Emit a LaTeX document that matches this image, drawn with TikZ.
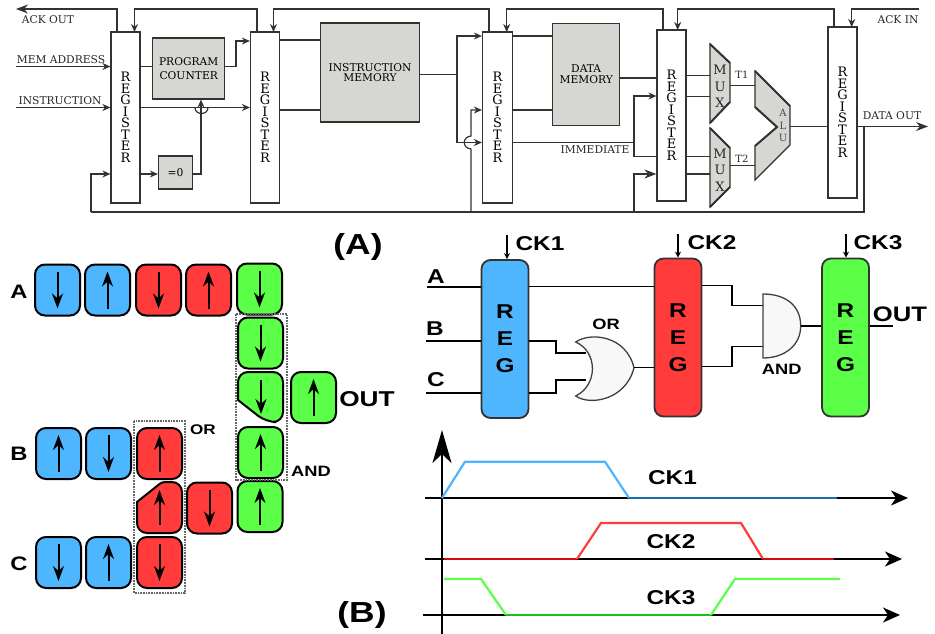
\documentclass[tikz,border=0pt]{standalone}
\usepackage{xcolor}
\usepackage{fontspec}
\setmainfont{DejaVu Serif}
\newfontfamily\boldlabel[FakeStretch=1.22]{Liberation Sans Bold}
\definecolor{wiregray}{RGB}{50, 50, 50}
\definecolor{boxgray}{RGB}{214, 214, 211}
\definecolor{regblue}{RGB}{77, 182, 255}
\definecolor{regred}{RGB}{255, 59, 59}
\definecolor{reggreen}{RGB}{92, 255, 71}
\definecolor{gatewhite}{RGB}{248, 248, 248}
\definecolor{deepblue}{RGB}{28, 110, 168}
\definecolor{deepred}{RGB}{210, 10, 10}
\definecolor{deepgreen}{RGB}{16, 196, 16}
\usepackage{tikz}
\usetikzlibrary{arrows.meta, positioning, calc}
\tikzstyle{wire} = [draw=wiregray, line width=1.2pt]
\tikzstyle{sig} = [wire, -{Stealth[length=8pt,width=7pt]}]
\tikzstyle{bigsig} = [wire, -{Stealth[length=12pt,width=9pt]}]
\tikzstyle{register} = [rectangle, draw=wiregray, line width=1.2pt, fill=white, minimum width=29pt, inner sep=0pt, align=center, font=\fontsize{13}{11.5}\selectfont]
\tikzstyle{graybox} = [rectangle, draw=wiregray, line width=1.2pt, fill=boxgray, inner sep=0pt, align=center, font=\fontsize{10.7}{14}\selectfont]
\tikzstyle{graygate} = [draw=wiregray, line width=1.2pt, fill=boxgray]
\tikzstyle{thickedge} = [draw=wiregray, line width=2pt]
\tikzstyle{small} = [inner sep=0pt, font=\fontsize{10.7}{12}\selectfont, text=black!85]
\tikzstyle{tile} = [rectangle, draw=black, line width=2pt, rounded corners=10pt, minimum width=45pt, minimum height=51pt, inner sep=0pt]
\tikzstyle{tilearrow} = [line width=2pt, -{Stealth[length=15pt,width=11pt]}, shorten >=8pt, shorten <=8pt]
\tikzstyle{dotbox} = [draw=black!60, line width=1.7pt, dash pattern=on 1.7pt off 1pt]
\tikzstyle{bold} = [inner sep=0pt, font=\boldlabel\fontsize{15}{16}\selectfont]
\tikzstyle{bigreg} = [rectangle, draw=black!80, line width=1.8pt, rounded corners=9pt, minimum width=47pt, minimum height=158pt, inner sep=0pt, align=center, font=\boldlabel\fontsize{20}{27}\selectfont]
\tikzstyle{blackwire} = [draw=black, line width=1.5pt]
\tikzstyle{clock} = [blackwire, -{Stealth[length=6pt,width=6pt]}]
\tikzstyle{logicgate} = [draw=black!75, line width=1.3pt, fill=gatewhite]
\tikzstyle{axis} = [draw=black, line width=2.1pt, -{Stealth[length=17pt,width=15pt,inset=5pt]}]
\tikzstyle{wave} = [line width=2.2pt]
\begin{document}
\begin{tikzpicture}[x=1pt, y=-1pt]
    \useasboundingbox (0,0) rectangle (935,634);

    \node[register, minimum height=171pt] (regI) at (125.5,117.5) {R\\E\\G\\I\\S\\T\\E\\R};
    \node[register, minimum height=171pt] (regII) at (265,117.5) {R\\E\\G\\I\\S\\T\\E\\R};
    \node[register, minimum height=171pt, minimum width=30pt] (regIII) at (497.5,117.5) {R\\E\\G\\I\\S\\T\\E\\R};
    \node[register, minimum height=171pt] (regIV) at (671.5,115.5) {R\\E\\G\\I\\S\\T\\E\\R};
    \node[register, minimum height=171pt] (regV) at (842.5,112.5) {R\\E\\G\\I\\S\\T\\E\\R};
    \node[graybox, minimum width=72pt, minimum height=61pt] (counter) at (188.7,68.5) {PROGRAM\\COUNTER};
    \node[graybox, minimum width=34pt, minimum height=33pt] (iszero) at (175.5,172.5) {=0};
    \node[graybox, minimum width=99pt, minimum height=99pt] (imem) at (370,72.5) {INSTRUCTION\\[-3.5pt]MEMORY};
    \node[graybox, minimum width=67pt, minimum height=102pt] (dmem) at (586.2,74.3) {DATA\\[-3.5pt]MEMORY};

    \foreach \name/\x/\y in {rail/0/9, back/0/212, rowmem/0/66.5, rowins/0/107.5, rowzero/0/174, rowdone/0/41,
        rowtop/0/36, rowmid/0/110, rowimm/0/142.5, rowdm/0/78, rowim/0/74.5, rowhigh/0/40,
        muxa/0/75.5, muxb/0/96.5, muxc/0/156.5, muxd/0/174, rowout/0/126.5,
        ackI/117/32, reqI/134.5/32, ackII/257/32, reqII/273.5/32, ackIII/489/32, reqIII/506.7/32,
        ackIV/663/30, reqIV/677.7/30, ackV/834/27, reqV/851.7/27,
        ackoutend/16/9, ackinend/919/9, memstart/16/66.5, insstart/16/107.5, pcjog/236/66.5,
        zerojog/201/174, hopl/195/107.5, hopr/208/107.5, feedstart/91/174, feedend/864/126.5,
        dataend/928/126.5, splitx/457/36, crossx/471/110, hopt/471/136, hopb/471/149, immx/634/96,
        mout/730/85.5, tout/730/165.5, muxoutend/755/85.5, tinend/755/165.5, aluout/790/126.5} {
        \coordinate (\name) at (\x,\y);
    }

    \draw[graygate] (710,44) -- (730,63) -- (730,102) -- (710,123) -- cycle;
    \draw[graygate] (710,128) -- (730,148) -- (730,187) -- (710,207) -- cycle;
    \draw[graygate] (755,71) -- (790,106) -- (790,145) -- (755,180) -- (755,146) -- (777,127) -- (755,107) -- cycle;
    \draw[thickedge] (710,44) -- (730,63) (730,102) -- (710,123) (710,128) -- (730,148) (730,187) -- (710,207);
    \draw[thickedge] (755,71) -- (790,106) (755,146) -- (777,127) -- (755,107);
    \node[small, font=\fontsize{13}{16.7}\selectfont, align=center] (muxI) at (720,86.5) {M\\U\\X};
    \node[small, font=\fontsize{13}{16.7}\selectfont, align=center] (muxII) at (720,170) {M\\U\\X};
    \node[small, font=\fontsize{10}{12.5}\selectfont, align=center, text=black!70] (alu) at (783,125.5) {A\\L\\U};

    \draw[bigsig] (ackI) -- (ackI |- rail) -- (ackoutend);
    \draw[sig] (ackII) -- (ackII |- rail) -- (reqI |- rail) -- (reqI);
    \draw[sig] (ackIII) -- (ackIII |- rail) -- (reqII |- rail) -- (reqII);
    \draw[sig] (ackIV) -- (ackIV |- rail) -- (reqIII |- rail) -- (reqIII);
    \draw[sig] (ackV) -- (ackV |- rail) -- (reqIV |- rail) -- (reqIV);
    \draw[sig] (ackinend) -- (reqV |- rail) -- (reqV);

    \draw[sig] (memstart) -- (memstart -| regI.west);
    \draw[sig] (insstart) -- (insstart -| regI.west);
    \draw[wire] (regI.east |- rowmem) -- (counter.west |- rowmem);
    \draw[sig] (counter.east |- pcjog) -- (pcjog) -- (pcjog |- rowdone) -- (regII.west |- rowdone);
    \draw[sig] (regI.east |- rowins) -- (regII.west |- rowins);
    \draw[wire] (hopl) .. controls +(0,8) and +(0,8) .. (hopr);
    \draw[sig] (regI.east |- rowzero) -- (iszero.west |- rowzero);
    \draw[sig] (iszero.east |- rowzero) -- (zerojog) -- (zerojog |- counter.south);
    \draw[sig] (feedstart |- back) -- (feedstart) -- (feedstart -| regI.west);
    \draw[wire] (feedstart |- back) -- (feedend |- back) -- (feedend);

    \draw[wire] (regII.east |- rowhigh) -- (imem.west |- rowhigh);
    \draw[wire] (regII.east |- rowmid) -- (imem.west |- rowmid);
    \draw[wire] (imem.east |- rowim) -- (splitx |- rowim);
    \draw[sig] (splitx |- rowimm) -- (splitx) -- (regIII.west |- splitx);
    \draw[sig] (crossx |- back) -- (hopb) .. controls (462,148) and (462,137) .. (hopt) -- (crossx) -- (regIII.west |- crossx);
    \draw[sig] (splitx |- rowimm) -- (regIII.west |- rowimm);

    \draw[wire] (regIII.east |- rowtop) -- (dmem.west |- rowtop);
    \draw[wire] (regIII.east |- rowmid) -- (dmem.west |- rowmid);
    \draw[wire] (dmem.east |- rowdm) -- (regIV.west |- rowdm);
    \draw[wire] (regIII.east |- rowimm) -- (immx |- rowimm);
    \draw[sig] (immx |- muxc) -- (immx) -- (regIV.west |- immx);
    \draw[wire] (immx |- muxc) -- (regIV.west |- muxc);
    \draw[bigsig] (immx |- back) -- (immx |- muxd) -- (regIV.west |- muxd);

    \draw[wire] (regIV.east |- muxa) -- (710,75.5);
    \draw[wire] (regIV.east |- muxb) -- (710,96.5);
    \draw[wire] (regIV.east |- muxc) -- (710,156.5);
    \draw[wire] (regIV.east |- muxd) -- (710,174);
    \draw[wire] (mout) -- (muxoutend);
    \draw[wire] (tout) -- (tinend);
    \draw[wire] (aluout) -- (regV.west |- aluout);
    \draw[bigsig] (regV.east |- rowout) -- (dataend);

    \node[small] (ackoutl) at (48,20) {ACK OUT};
    \node[small] (ackinl) at (898,20) {ACK IN};
    \node[small] (meml) at (61,60) {MEM ADDRESS};
    \node[small] (insl) at (60,101) {INSTRUCTION};
    \node[small] (imml) at (595,150) {IMMEDIATE};
    \node[small] (dataoutl) at (892,115.5) {DATA OUT};
    \node[small, font=\fontsize{10}{10}\selectfont] (tI) at (742,75) {T1};
    \node[small, font=\fontsize{10}{10}\selectfont] (tII) at (742,159) {T2};

    \foreach \name/\x/\y/\col/\from/\to in {
        ai/57.5/290/regblue/north/south, aii/107.5/290/regblue/south/north,
        aiii/158.5/290/regred/north/south, aiv/208.5/290/regred/south/north,
        av/259.5/289/reggreen/north/south,
        gi/260.5/343/reggreen/north/south, giii/260.5/452.5/reggreen/south/north,
        giv/260/506.5/reggreen/south/north, outt/313.5/397.5/reggreen/south/north,
        bi/58.5/453.5/regblue/south/north, bii/108.5/453.5/regblue/north/south,
        biii/159.5/453.5/regred/south/north, midii/209.5/508/regred/north/south,
        ci/58.5/562.5/regblue/north/south, cii/108.5/562.5/regblue/south/north,
        ciii/159.5/562.5/regred/north/south} {
        \node[tile, fill=\col] (\name) at (\x,\y) {};
        \draw[tilearrow] (\name.\from) -- (\name.\to);
    }

    \coordinate (cutgt) at (261,372);
    \coordinate (cutgb) at (261,422);
    \coordinate (cutrt) at (159.5,482);
    \coordinate (cutrb) at (159.5,533);
    \draw[draw=black, line width=2pt, fill=reggreen, rounded corners=10pt] (238,400) -- (238,372) -- (283,372) -- (283,422) -- (266,422) [sharp corners] -- cycle;
    \draw[tilearrow] (cutgt) -- (cutgb);
    \draw[draw=black, line width=2pt, fill=regred, rounded corners=10pt] (137,502) [rounded corners=3pt] -- (162,482) [rounded corners=10pt] -- (182,482) -- (182,533) -- (137,533) [sharp corners] -- cycle;
    \draw[tilearrow] (cutrb) -- (cutrt);

    \draw[dotbox] (134,421) rectangle (185,593);
    \draw[dotbox] (236,314) rectangle (287,480);

    \node[bold, font=\boldlabel\fontsize{19.5}{20}\selectfont] (tilea) at (19,292) {A};
    \node[bold, font=\boldlabel\fontsize{19.5}{20}\selectfont] (tileb) at (19,454) {B};
    \node[bold, font=\boldlabel\fontsize{19.5}{20}\selectfont] (tilec) at (19,564) {C};
    \node[bold, font=\boldlabel\fontsize{21.5}{22}\selectfont] (tileout) at (367,399) {OUT};
    \node[bold, font=\boldlabel\fontsize{14}{14}\selectfont] (tileor) at (203,430) {OR};
    \node[bold, font=\boldlabel\fontsize{15}{15}\selectfont] (tileand) at (311,471) {AND};
    \node[bold, font=\boldlabel\fontsize{29}{29}\selectfont] (parta) at (358,247) {(A)};
    \node[bold, font=\boldlabel\fontsize{29}{29}\selectfont] (partb) at (362,615) {(B)};

    \node[bigreg, fill=regblue] (regblue) at (505,339) {R\\E\\G};
    \node[bigreg, fill=regred] (regred) at (678,337.5) {R\\E\\G};
    \node[bigreg, fill=reggreen] (reggreen) at (845.5,337.5) {R\\E\\G};

    \foreach \name/\x/\y in {ckIs/507/235, ckIIs/678/234, ckIIIs/846/234, ina/427/287, inb/426/341, inc/426/393,
        aband/0/286.5, orjog/556/341, orjogb/556/393, orina/586/353, orinb/586/380, orout/634/367.7,
        andjoga/732/285.7, andjogb/732/366.7, andina/763/305.7, andinb/763/346.7, andout/800.7/326,
        outend/892.7/326} {
        \coordinate (\name) at (\x,\y);
    }

    \draw[clock] (ckIs) -- (ckIs |- regblue.north);
    \draw[clock] (ckIIs) -- (ckIIs |- regred.north);
    \draw[clock] (ckIIIs) -- (ckIIIs |- reggreen.north);
    \draw[blackwire] (ina) -- (ina -| regblue.west);
    \draw[blackwire] (inb) -- (inb -| regblue.west);
    \draw[blackwire] (inc) -- (inc -| regblue.west);
    \draw[blackwire] (regblue.east |- aband) -- (regred.west |- aband);
    \draw[blackwire] (regblue.east |- orjog) -- (orjog) -- (orjog |- orina) -- (orina);
    \draw[blackwire] (regblue.east |- orjogb) -- (orjogb) -- (orjogb |- orinb) -- (orinb);
    \draw[logicgate] (575.7,342) .. controls (590,332) and (626,335) .. (orout) .. controls (626,400) and (590,406) .. (575.7,396) .. controls (598,385) and (598,352) .. cycle;
    \draw[blackwire] (orout) -- (regred.west |- orout);
    \draw[blackwire] (regred.east |- andjoga) -- (andjoga) -- (andjoga |- andina) -- (andina);
    \draw[blackwire] (regred.east |- andjogb) -- (andjogb) -- (andjogb |- andinb) -- (andinb);
    \draw[logicgate] (763,294) .. controls (785,294) and (800.7,305) .. (andout) .. controls (800.7,345) and (785,358) .. (763,358) -- cycle;
    \draw[blackwire] (andout) -- (reggreen.west |- andout);
    \draw[blackwire] (reggreen.east |- andout) -- (outend);

    \node[bold, font=\boldlabel\fontsize{20}{20}\selectfont] (ckI) at (540,244) {CK1};
    \node[bold, font=\boldlabel\fontsize{20}{20}\selectfont] (ckII) at (712,243) {CK2};
    \node[bold, font=\boldlabel\fontsize{20}{20}\selectfont] (ckIII) at (878,243) {CK3};
    \node[bold, font=\boldlabel\fontsize{20}{20}\selectfont] (ina_l) at (436,277) {A};
    \node[bold, font=\boldlabel\fontsize{20}{20}\selectfont] (inb_l) at (435,329) {B};
    \node[bold, font=\boldlabel\fontsize{20}{20}\selectfont] (inc_l) at (436,380) {C};
    \node[bold, font=\boldlabel\fontsize{21}{21}\selectfont] (outl) at (900,314) {OUT};
    \node[bold, font=\boldlabel\fontsize{15}{15}\selectfont] (orl) at (606,324) {OR};
    \node[bold, font=\boldlabel\fontsize{15}{15}\selectfont] (andl) at (781.7,369) {AND};

    \foreach \name/\x/\y in {vstart/442/634, vend/442/430, ha/425/498, hae/908/498, hb/425/559, hbe/902/559, hc/423/615, hce/900/615} {
        \coordinate (\name) at (\x,\y);
    }
    \draw[axis] (ha) -- (hae);
    \draw[axis] (hb) -- (hbe);
    \draw[axis] (hc) -- (hce);
    \draw[axis, -{Stealth[length=33pt,width=19pt,inset=9pt]}] (vstart) -- (vend);

    \draw[wave, regblue] (442,498) -- (465,461.7) -- (605,461.7) -- (629,498);
    \draw[wave, deepblue] (629,498) -- (837,498);
    \draw[wave, deepred] (444,559) -- (577,559);
    \draw[wave, regred] (577,559) -- (601,523) -- (741,523) -- (763,559);
    \draw[wave, deepred] (763,559) -- (834,559);
    \draw[wave, reggreen] (444,579) -- (481,579) -- (506,615);
    \draw[wave, deepgreen] (506,615) -- (711,615);
    \draw[wave, reggreen] (711,615) -- (735,579) -- (840,579);

    \node[bold, font=\boldlabel\fontsize{20}{20}\selectfont] (waveI) at (672.5,478) {CK1};
    \node[bold, font=\boldlabel\fontsize{20}{20}\selectfont] (waveII) at (671,542) {CK2};
    \node[bold, font=\boldlabel\fontsize{20}{20}\selectfont] (waveIII) at (671,598) {CK3};
\end{tikzpicture}
\end{document}
